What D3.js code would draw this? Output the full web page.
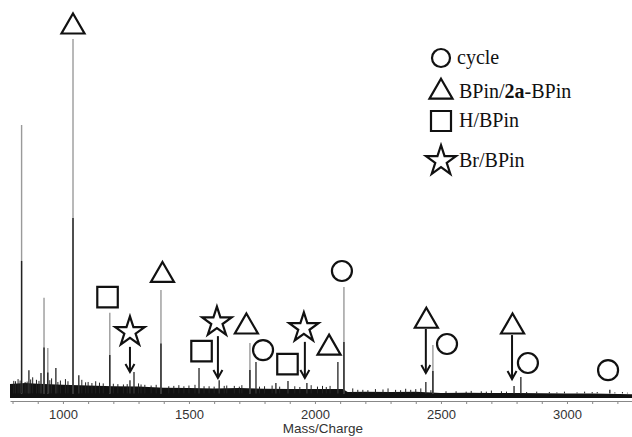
<!DOCTYPE html>
<html lang="en">
<head>
    <meta charset="UTF-8">
    <title>Mass spectrum</title>
    <script src="https://cdn.jsdelivr.net/npm/d3@7"></script>
    <style>
        body {
            margin: 0;
            background: #fff;
        }
        svg {
            display: block;
        }
        .tick text {
            font-family: 'Liberation Sans', Arial, sans-serif;
            font-size: 13px;
            fill: #333;
        }
        .legend text {
            font-family: 'Liberation Serif', 'Times New Roman', serif;
            font-size: 20px;
            fill: #111;
        }
    </style>
</head>
<body>
    <svg></svg>
    <script>
        const width = 632;
        const height = 437;

        // peaks: m/z and relative intensity
        const peakMz = [836, 1040, 925, 940, 865, 913, 972, 1063, 1186, 1266, 1282, 1389,
            1540, 1620, 1742, 1766, 1893, 1845, 1968, 2091, 2115, 2440, 2468, 2790, 2817, 3170];
        const peakInt = [76, 100, 27.7, 13.7, 7.5, 6.7, 8.1, 6.1, 23.5, 4.7, 7, 29.9,
            8.1, 4.7, 15.1, 9.8, 4.5, 3.9, 3.9, 9.8, 30.7, 4.2, 14.5, 3.1, 5.6, 2];

        // small peaks sticking out of the noise
        const smallMz = [805, 822, 850, 880, 895, 955, 990, 1010, 1075, 1100, 1130, 1160, 1218,
            1240, 1300, 1325, 1350, 1420, 1460, 1500, 1524, 1580, 1650, 1680, 1710, 1800, 1830,
            1920, 1985, 2030, 2060, 2150, 2190, 2240, 2290, 2320, 2360, 2400, 2420, 2560, 2620,
            2660, 2700, 2740, 2880, 2930, 2990, 3070, 3120, 3220,
            812, 830, 858, 872, 905, 948, 980, 1020, 1090, 1115, 1145, 1200, 1255, 1310, 1370,
            1440, 1480, 1560, 1600, 1640, 1700, 1780, 1860, 1940, 2010, 2045, 2170, 2210, 2270,
            2340, 2380, 2460, 2520, 2600, 2680, 2760, 2840, 2960, 3040, 3100, 3190, 3240];
        const smallInt = [4.5, 5, 4.2, 5.5, 4.8, 5.2, 4.6, 5, 4.8, 4.2, 4.4, 3.8, 3.6,
            3.5, 3.8, 3.4, 3.2, 3, 3.3, 3.2, 3.4, 3, 3.2, 3.1, 3.3, 3, 3.2,
            3, 3.3, 3.1, 3.1, 2.4, 2, 2.2, 2.4, 2, 2.3, 2.2, 2.4, 1.6, 1.7,
            1.6, 1.8, 1.6, 1.5, 1.4, 1.5, 1.5, 1.4, 1.4,
            4.4, 4.6, 4.3, 4.9, 4.5, 4.7, 4.2, 4.4, 4.1, 3.9, 4.0, 3.7, 3.6, 3.5, 3.4,
            3.1, 3.0, 3.0, 2.9, 3.1, 2.9, 2.9, 2.9, 2.8, 2.9, 2.8, 2.0, 1.9, 2.1,
            1.9, 2.0, 1.9, 1.6, 1.5, 1.5, 1.5, 1.4, 1.3, 1.3, 1.4, 1.3, 1.2];

        // noise band top edge
        const bandMz = [790, 850, 900, 1000, 1100, 1200, 1300, 1400, 1500, 1600, 1700, 1800,
            1900, 2000, 2110, 2130, 2200, 2300, 2400, 2500, 2600, 2700, 2800, 3000, 3100, 3258];
        const bandTop = [3.6, 3.9, 3.7, 3.4, 3.2, 3.0, 2.9, 2.6, 2.5, 2.4, 2.5, 2.3,
            2.2, 2.2, 2.2, 1.4, 1.5, 1.4, 1.5, 1.1, 1.2, 1.1, 1.1, 1.0, 1.0, 0.8];

        // annotation symbols
        const markType = ["triangle", "square", "star", "triangle", "square", "star", "triangle",
            "circle", "square", "star", "triangle", "circle", "triangle", "circle", "triangle",
            "circle", "circle"];
        const markMz = [1040, 1177, 1266, 1395, 1550, 1611, 1728, 1794, 1891, 1956, 2056, 2107,
            2442, 2524, 2784, 2845, 3163];
        const markInt = [103.4, 27.9, 18.2, 34, 12.8, 20.9, 19.6, 13.1, 9.2, 19.3, 13.7, 35.2,
            21.2, 14.8, 19.6, 9.5, 7.5];

        // arrows
        const arrowMz = [1266, 1615, 1960, 2440, 2782];
        const arrowFrom = [14, 17, 15.4, 19, 17.3];
        const arrowTo = [7, 5.3, 5.3, 6.7, 5];

        const legendType = ["circle", "triangle", "square", "star"];
        const legendLabel = ["cycle", "BPin/2a-BPin", "H/BPin", "Br/BPin"];

        const tickValues = d3.range(800, 3300, 100);
        const xLabel = "Mass/Charge";

        const svg = d3.select("svg")
            .attr("width", width)
            .attr("height", height);

        const x = d3.scaleLinear().domain([790, 3258]).range([10, 632]);
        const y = d3.scaleLinear().domain([0, 100]).range([397, 39]);

        // noise band
        const band = bandMz.map((m, i) => ({ m: m, t: bandTop[i] }));
        svg.append("path")
            .datum(band)
            .attr("fill", "#111")
            .attr("d", d3.area().x(d => x(d.m)).y0(y(-0.3)).y1(d => y(d.t)));

        // small peaks
        svg.selectAll(".small")
            .data(smallMz)
            .enter().append("line")
            .attr("x1", d => x(d)).attr("x2", d => x(d))
            .attr("y1", y(1)).attr("y2", (d, i) => y(smallInt[i]))
            .attr("stroke", "#222")
            .attr("stroke-width", 1);

        // peaks: grey upper part, dark lower part
        const peaks = peakMz.map((m, i) => ({ m: m, v: peakInt[i] }));
        svg.selectAll(".peak")
            .data(peaks)
            .enter().append("line")
            .attr("x1", d => x(d.m)).attr("x2", d => x(d.m))
            .attr("y1", y(1)).attr("y2", d => y(d.v))
            .attr("stroke", d => d.v > 12 ? "#9a9a9a" : "#333")
            .attr("stroke-width", 1.4);
        svg.selectAll(".peakdark")
            .data(peaks.filter(d => d.v > 12))
            .enter().append("line")
            .attr("x1", d => x(d.m)).attr("x2", d => x(d.m))
            .attr("y1", y(1)).attr("y2", d => y(d.v * 0.5))
            .attr("stroke", "#222")
            .attr("stroke-width", 1.4);

        // axis
        const axis = d3.axisBottom(x)
            .tickValues(tickValues)
            .tickFormat(d => d % 500 === 0 ? d : "")
            .tickSize(3)
            .tickSizeOuter(0);
        const ax = svg.append("g")
            .attr("transform", "translate(0,401)")
            .call(axis);
        ax.select(".domain").attr("stroke", "#888");
        ax.selectAll(".tick line").attr("stroke", "#888");
        ax.selectAll(".tick text").attr("dy", "0").attr("y", 18);

        svg.append("text")
            .attr("x", 323)
            .attr("y", 433)
            .attr("text-anchor", "middle")
            .style("font-family", "'Liberation Sans', Arial, sans-serif")
            .style("font-size", "13.5px")
            .style("fill", "#333")
            .text(xLabel);

        // symbols
        const symbolOf = {
            circle: d3.symbol(d3.symbolCircle, 314),
            triangle: d3.symbol(d3.symbolTriangle, 230),
            square: d3.symbol(d3.symbolSquare, 420),
            star: d3.symbol(d3.symbolStar, 270)
        };

        svg.selectAll(".mark")
            .data(markMz)
            .enter().append("path")
            .attr("transform", (d, i) => `translate(${x(d)},${y(markInt[i])})`)
            .attr("d", (d, i) => symbolOf[markType[i]]())
            .attr("fill", "#fff")
            .attr("stroke", "#111")
            .attr("stroke-width", 2.2)
            .attr("stroke-linejoin", "miter");

        // arrows
        const ag = svg.selectAll(".arrow")
            .data(arrowMz)
            .enter().append("g")
            .attr("stroke", "#111")
            .attr("stroke-width", 2)
            .attr("fill", "none");
        ag.append("line")
            .attr("x1", d => x(d)).attr("x2", d => x(d))
            .attr("y1", (d, i) => y(arrowFrom[i]))
            .attr("y2", (d, i) => y(arrowTo[i]));
        ag.append("path")
            .attr("d", (d, i) => {
                const px = x(d), py = y(arrowTo[i]);
                return `M${px - 4.5},${py - 8}L${px},${py}L${px + 4.5},${py - 8}`;
            });

        // legend
        const legendY = [58, 92, 121, 161];
        const lg = svg.append("g").attr("class", "legend");
        legendType.forEach((t, i) => {
            lg.append("path")
                .attr("transform", `translate(441,${legendY[i]})`)
                .attr("d", d3.symbol(d3["symbol" + t[0].toUpperCase() + t.slice(1)],
                    t === "circle" ? 254 : t === "triangle" ? 230 : t === "square" ? 400 : 280)())
                .attr("fill", "#fff")
                .attr("stroke", "#111")
                .attr("stroke-width", 2.2);
            const txt = lg.append("text")
                .attr("x", t === "circle" ? 457 : 459)
                .attr("y", legendY[i] + 6);
            const lab = legendLabel[i];
            if (lab.indexOf("2a") >= 0) {
                const parts = lab.split("2a");
                txt.append("tspan").text(parts[0]);
                txt.append("tspan").attr("font-weight", "bold").text("2a");
                txt.append("tspan").text(parts[1]);
            } else {
                txt.text(lab);
            }
        });
    </script>
</body>
</html>
